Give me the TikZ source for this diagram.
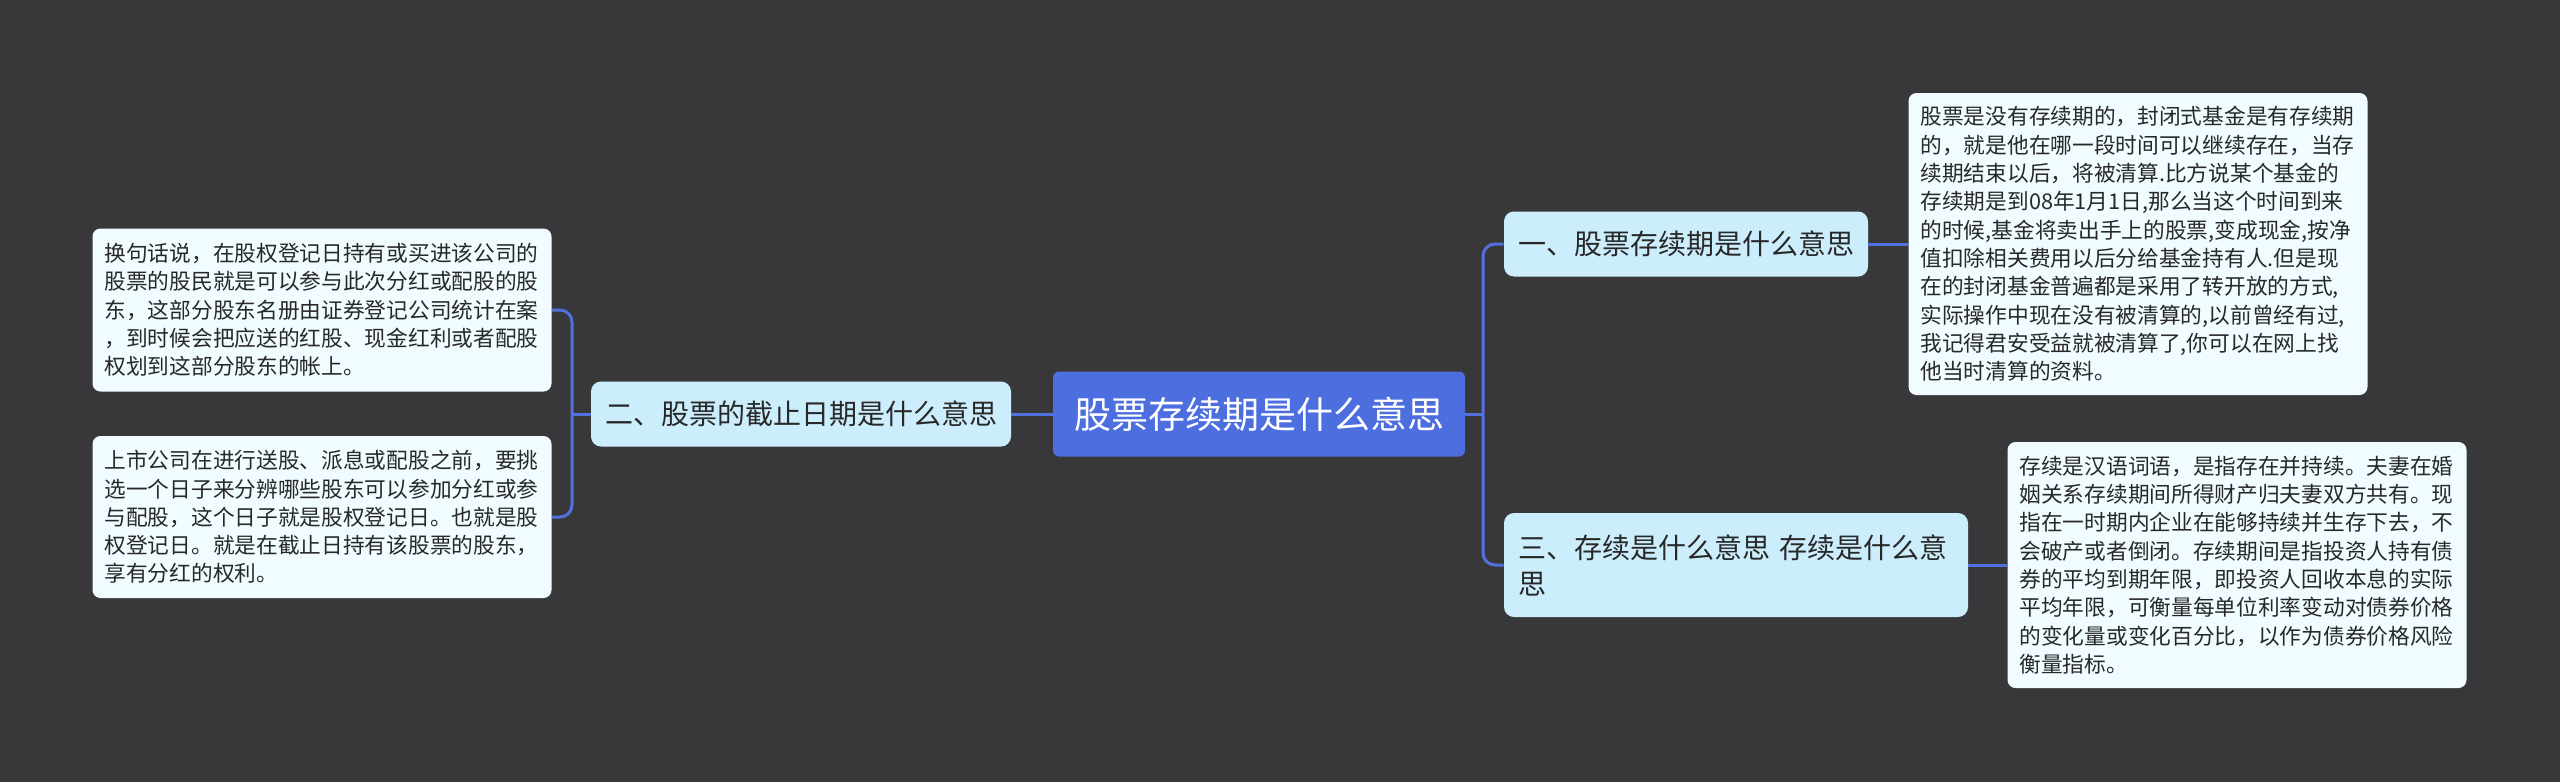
\documentclass[tikz,border=0pt]{standalone}
\usepackage{fontspec}
\setmainfont{Noto Sans CJK SC}
\usepackage{tikz}
\usetikzlibrary{calc,positioning}
\usepackage{xcolor}
\definecolor{bgColor}{RGB}{56,56,58}
\definecolor{rootColor}{RGB}{76,110,222}
\definecolor{branchColor}{RGB}{204,238,252}
\definecolor{leafColor}{RGB}{240,252,255}
\definecolor{linkColor}{RGB}{82,112,222}
\definecolor{textColor}{RGB}{40,40,40}
\newcommand{\rootfont}{\fontsize{18.5}{22}\selectfont}
\newcommand{\branchfont}{\fontsize{14}{18}\selectfont}
\newcommand{\leaffont}{\fontsize{10.85}{14.15}\selectfont}

\begin{document}
\begin{tikzpicture}[
        x=0.5pt, y=-0.5pt,
        topic/.style={fill=rootColor, rounded corners=3pt, minimum width=206pt, minimum height=42.5pt, align=center, text=white, font=\rootfont},
        branch/.style={fill=branchColor, rounded corners=5pt, minimum height=32.5pt, inner xsep=7pt, align=left, text=textColor, font=\branchfont},
        leaf/.style={fill=leafColor, rounded corners=4pt, minimum width=229.5pt, text width=217.5pt, inner xsep=6pt, align=left, text=textColor, font=\leaffont},
        link/.style={linkColor, line width=1.5pt, rounded corners=6pt}
      ]
      \fill[bgColor] (0,0) rectangle (2560,782);
      \useasboundingbox (0,0) rectangle (2560,782);

      \node[topic] (root) at (1259,414) {股票存续期是什么意思};
      \node[branch, minimum width=210pt] (b2) at (801,414) {二、股票的截止日期是什么意思};
      \node[branch, minimum width=182pt] (b1) at (1686,244) {一、股票存续期是什么意思};
      \node[branch, minimum width=232pt, minimum height=52pt, text width=218pt] (b3) at (1736,565) {三、存续是什么意思~存续是什么意\\思};

      \node[leaf, minimum height=151pt] (s1) at (2138,244) {股票是没有存续期的，封闭式基金是有存续期\\的，就是他在哪一段时间可以继续存在，当存\\续期结束以后，将被清算.比方说某个基金的\\存续期是到08年1月1日,那么当这个时间到来\\的时候,基金将卖出手上的股票,变成现金,按净\\值扣除相关费用以后分给基金持有人.但是现\\在的封闭基金普遍都是采用了转开放的方式,\\实际操作中现在没有被清算的,以前曾经有过,\\我记得君安受益就被清算了,你可以在网上找\\他当时清算的资料。};
      \node[leaf, minimum height=123pt] (s3) at (2237,565) {存续是汉语词语，是指存在并持续。夫妻在婚\\姻关系存续期间所得财产归夫妻双方共有。现\\指在一时期内企业在能够持续并生存下去，不\\会破产或者倒闭。存续期间是指投资人持有债\\券的平均到期年限，即投资人回收本息的实际\\平均年限，可衡量每单位利率变动对债券价格\\的变化量或变化百分比，以作为债券价格风险\\衡量指标。};
      \node[leaf, minimum height=81.5pt] (s2a) at (322,310) {换句话说，在股权登记日持有或买进该公司的\\股票的股民就是可以参与此次分红或配股的股\\东，这部分股东名册由证券登记公司统计在案\\，到时候会把应送的红股、现金红利或者配股\\权划到这部分股东的帐上。};
      \node[leaf, minimum height=81pt] (s2b) at (322,517) {上市公司在进行送股、派息或配股之前，要挑\\选一个日子来分辨哪些股东可以参加分红或参\\与配股，这个日子就是股权登记日。也就是股\\权登记日。就是在截止日持有该股票的股东，\\享有分红的权利。};

      % junctions
      \coordinate (jr) at (1483,414);
      \coordinate (jl) at (572,414);

      \draw[link] (root.east) -- (jr);
      \draw[link] (jr) |- (b1.west);
      \draw[link] (jr) |- (b3.west);
      \draw[link] (root.west) -- (b2.east);
      \draw[link] (b2.west) -- (jl);
      \draw[link] (jl) |- (s2a.east);
      \draw[link] (jl) |- (s2b.east);
      \draw[link] (b1.east) -- (s1.west);
      \draw[link] (b3.east) -- (s3.west);
    \end{tikzpicture}
\end{document}
